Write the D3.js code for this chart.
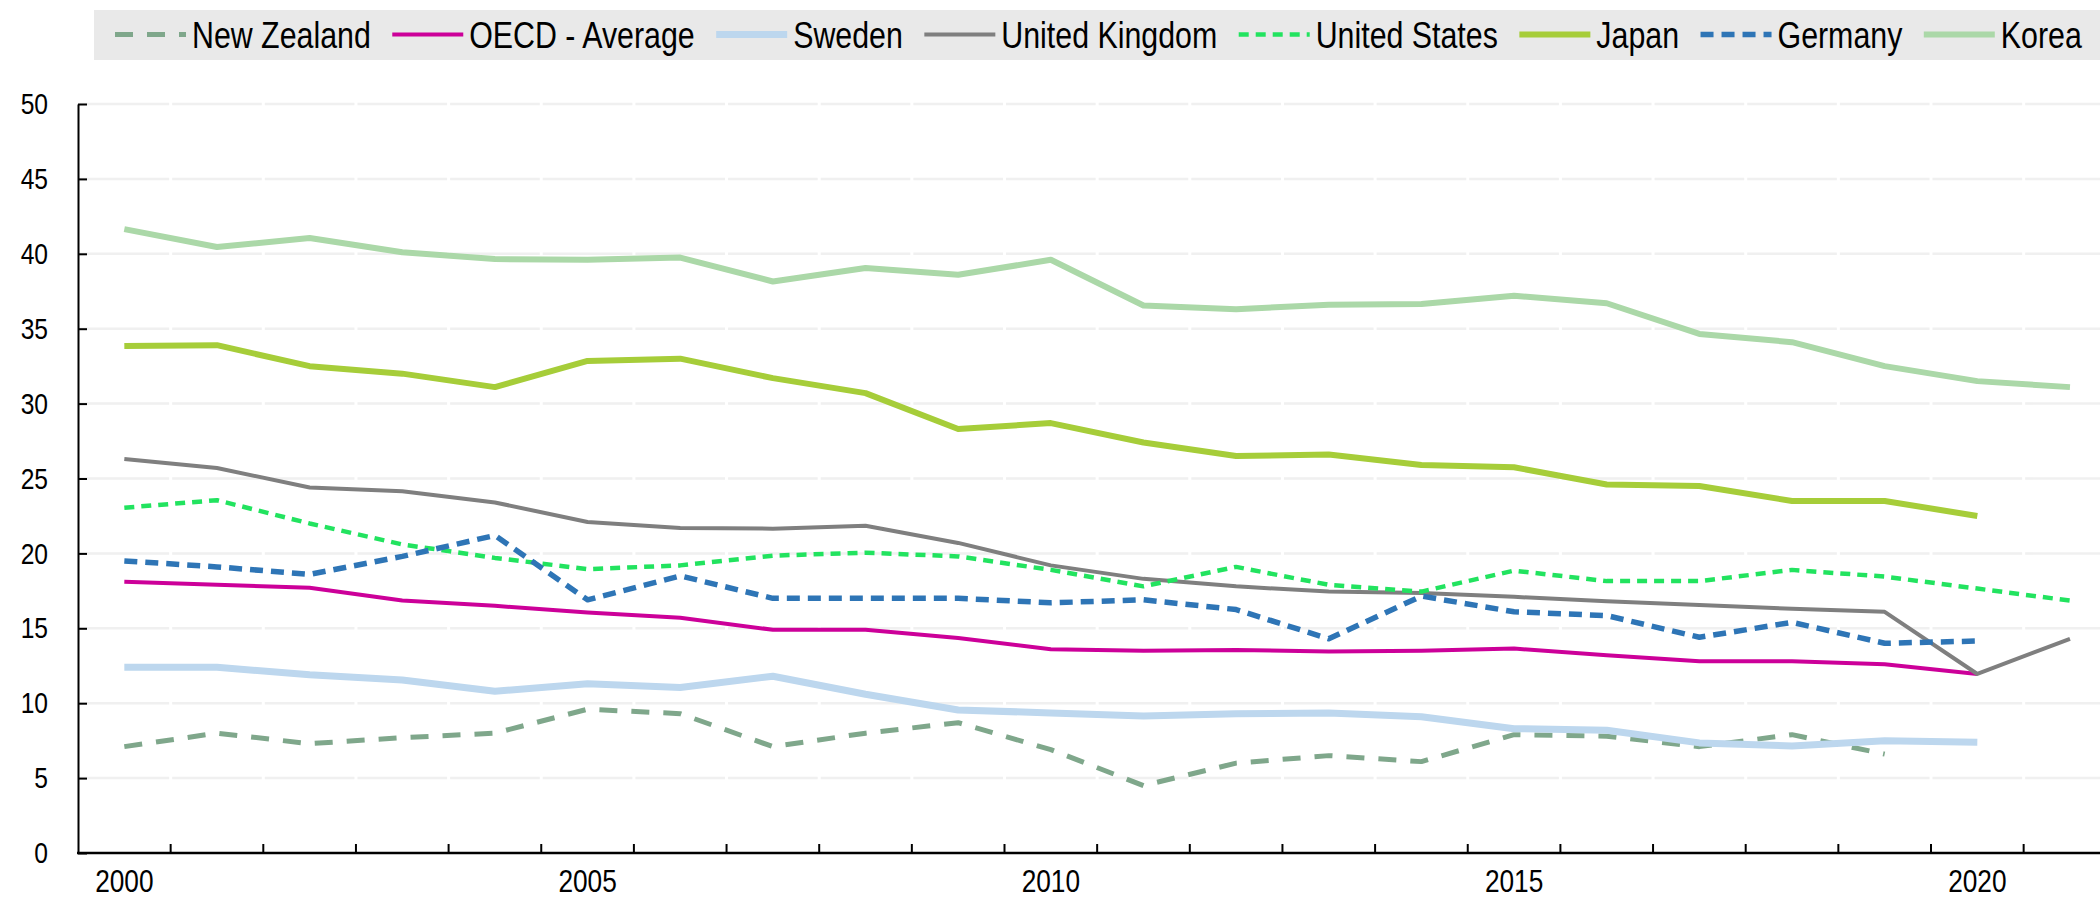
<!DOCTYPE html>
<html>
<head>
<meta charset="utf-8">
<script src="https://cdn.jsdelivr.net/npm/d3@7"></script>
<style>
	body { margin: 0; background: #fff; }
	svg { display: block; }
</style>
</head>
<body>
<script>
// category axis: one band per year
var years = d3.range(2000, 2022).map(String);
var xTickLabels = ['2000', '2005', '2010', '2015', '2020'];
var yTickValues = [0, 5, 10, 15, 20, 25, 30, 35, 40, 45, 50];

// series values, null = no data
var newZealand    = [7.1, 8.0, 7.3, 7.7, 8.0, 9.6, 9.3, 7.1, 8.0, 8.7, 6.9, 4.5, 6.0, 6.5, 6.1, 7.9, 7.8, 7.1, 7.9, 6.6, null, null];
var oecdAverage   = [18.1, 17.9, 17.7, 16.85, 16.5, 16.05, 15.7, 14.9, 14.9, 14.35, 13.6, 13.5, 13.55, 13.45, 13.5, 13.65, 13.2, 12.8, 12.8, 12.6, 11.95, null];
var sweden        = [12.4, 12.4, 11.9, 11.55, 10.8, 11.3, 11.05, 11.8, 10.6, 9.55, 9.35, 9.15, 9.3, 9.35, 9.1, 8.3, 8.2, 7.35, 7.15, 7.5, 7.4, null];
var unitedKingdom = [26.3, 25.7, 24.4, 24.15, 23.4, 22.1, 21.7, 21.65, 21.85, 20.7, 19.2, 18.3, 17.8, 17.45, 17.35, 17.1, 16.8, 16.55, 16.3, 16.1, 11.95, 14.3];
var unitedStates  = [23.05, 23.55, 22.0, 20.6, 19.7, 18.95, 19.2, 19.85, 20.05, 19.8, 18.9, 17.8, 19.1, 17.9, 17.45, 18.85, 18.15, 18.15, 18.9, 18.45, 17.65, 16.85];
var japan         = [33.85, 33.9, 32.5, 32.0, 31.1, 32.85, 33.0, 31.7, 30.7, 28.3, 28.7, 27.4, 26.5, 26.6, 25.9, 25.75, 24.6, 24.5, 23.5, 23.5, 22.5, null];
var germany       = [19.5, 19.1, 18.6, 19.8, 21.2, 16.9, 18.5, 17.0, 17.0, 17.0, 16.7, 16.9, 16.25, 14.3, 17.15, 16.1, 15.85, 14.4, 15.4, 14.0, 14.15, null];
var korea         = [41.65, 40.45, 41.05, 40.1, 39.65, 39.6, 39.75, 38.15, 39.05, 38.6, 39.6, 36.55, 36.3, 36.6, 36.65, 37.2, 36.7, 34.65, 34.1, 32.5, 31.5, 31.1];

var series = [
	{name: 'New Zealand',    values: newZealand,    color: '#7fa78b', width: 5,   dash: '18,14'},
	{name: 'OECD - Average', values: oecdAverage,   color: '#cc0099', width: 4,   dash: null},
	{name: 'Sweden',         values: sweden,        color: '#bdd7ee', width: 7,   dash: null},
	{name: 'United Kingdom', values: unitedKingdom, color: '#7f7f7f', width: 4,   dash: null},
	{name: 'United States',  values: unitedStates,  color: '#22e35f', width: 4.5, dash: '10,7'},
	{name: 'Japan',          values: japan,         color: '#a6cd39', width: 6,   dash: null},
	{name: 'Germany',        values: germany,       color: '#2e75b6', width: 5.5, dash: '13,8'},
	{name: 'Korea',          values: korea,         color: '#abd8a8', width: 6,   dash: null},
];

var W = 2100, H = 898;
var plotLeft = 78, plotBottom = 853, plotTop = 104;
var bandW = 92.65;

var svg = d3.select('body').append('svg')
	.attr('width', W)
	.attr('height', H);

// pick a narrow font, or squeeze the regular one if narrow is missing
var FONT = '"Liberation Sans Narrow", "Arial Narrow", sans-serif';
var squeeze = false;
(function(){
	var t1 = svg.append('text').style('font-family', '"Liberation Sans Narrow", monospace').style('font-size', '40px').text('New Zealand 2000');
	var t2 = svg.append('text').style('font-family', 'monospace').style('font-size', '40px').text('New Zealand 2000');
	var w1 = t1.node().getComputedTextLength(), w2 = t2.node().getComputedTextLength();
	t1.remove(); t2.remove();
	if (Math.abs(w1 - w2) < 1) { FONT = '"Liberation Sans", Arial, sans-serif'; squeeze = true; }
})();

function narrow(sel){
	if (!squeeze) return;
	sel.each(function(){
		var w = this.getComputedTextLength();
		d3.select(this).attr('textLength', w * 0.82).attr('lengthAdjust', 'spacingAndGlyphs');
	});
}

var x = d3.scaleBand()
	.domain(years)
	.range([plotLeft, plotLeft + years.length * bandW])
	.padding(0);

var y = d3.scaleLinear()
	.domain([0, 50])
	.range([plotBottom, plotTop]);

// gridlines, broken slightly at each category tick
svg.append('g')
	.attr('class', 'grid')
	.selectAll('line')
	.data(yTickValues.filter(function(d){ return d > 0; }))
	.enter().append('line')
	.attr('x1', plotLeft)
	.attr('x2', W)
	.attr('y1', function(d){ return y(d); })
	.attr('y2', function(d){ return y(d); })
	.attr('stroke', '#f0f0f0')
	.attr('stroke-width', 2.5)
	.attr('stroke-dasharray', (bandW - 3) + ',3')
	.attr('stroke-dashoffset', -1.5);

// y axis
var yAxis = d3.axisLeft(y)
	.tickValues(yTickValues)
	.tickSizeInner(-9)
	.tickSizeOuter(0)
	.tickPadding(30);

var gy = svg.append('g')
	.attr('transform', 'translate(' + plotLeft + ',0)')
	.call(yAxis);
gy.select('.domain').attr('stroke', '#000').attr('stroke-width', 2);
gy.selectAll('.tick line').attr('stroke', '#000').attr('stroke-width', 2);
gy.selectAll('.tick text')
	.style('font-family', FONT)
	.style('font-size', '30px')
	.attr('fill', '#000')
	.call(narrow);

// x axis: ticks sit between the bands
var gx = svg.append('g')
	.attr('class', 'x-axis');
gx.append('line')
	.attr('x1', plotLeft - 1)
	.attr('x2', W)
	.attr('y1', plotBottom)
	.attr('y2', plotBottom)
	.attr('stroke', '#000')
	.attr('stroke-width', 2.5);
gx.selectAll('line.tick')
	.data(years.slice(1))
	.enter().append('line')
	.attr('class', 'tick')
	.attr('x1', function(d){ return x(d); })
	.attr('x2', function(d){ return x(d); })
	.attr('y1', plotBottom)
	.attr('y2', plotBottom - 9)
	.attr('stroke', '#000')
	.attr('stroke-width', 2);
gx.selectAll('text')
	.data(xTickLabels)
	.enter().append('text')
	.attr('x', function(d){ return x(d) + x.bandwidth() / 2; })
	.attr('y', 892)
	.attr('text-anchor', 'middle')
	.style('font-family', FONT)
	.style('font-size', '32px')
	.text(function(d){ return d; })
	.call(narrow);

// lines
var line = d3.line()
	.defined(function(d){ return d.v != null; })
	.x(function(d){ return x(d.year) + x.bandwidth() / 2; })
	.y(function(d){ return y(d.v); });

svg.append('g')
	.attr('class', 'lines')
	.selectAll('path')
	.data(series)
	.enter().append('path')
	.attr('d', function(s){
		return line(s.values.map(function(v, i){ return {year: years[i], v: v}; }));
	})
	.attr('fill', 'none')
	.attr('stroke', function(s){ return s.color; })
	.attr('stroke-width', function(s){ return s.width; })
	.attr('stroke-dasharray', function(s){ return s.dash; })
	.attr('stroke-linejoin', 'round');

// legend band at the top
var legend = svg.append('g').attr('class', 'legend');
legend.append('rect')
	.attr('x', 94)
	.attr('y', 10)
	.attr('width', W - 94)
	.attr('height', 50)
	.attr('fill', '#e9e9e9');

var lx = 115;
series.forEach(function(s){
	legend.append('line')
		.attr('x1', lx)
		.attr('x2', lx + 71)
		.attr('y1', 34.5)
		.attr('y2', 34.5)
		.attr('stroke', s.color)
		.attr('stroke-width', s.width)
		.attr('stroke-dasharray', s.dash);
	var t = legend.append('text')
		.attr('x', lx + 77)
		.attr('y', 47.5)
		.style('font-family', FONT)
		.style('font-size', '37px')
		.text(s.name);
	var w = t.node().getComputedTextLength();
	if (squeeze) {
		t.attr('textLength', w * 0.82).attr('lengthAdjust', 'spacingAndGlyphs');
		w = w * 0.82;
	}
	lx += 77 + w + 21.5;
});
</script>
</body>
</html>
